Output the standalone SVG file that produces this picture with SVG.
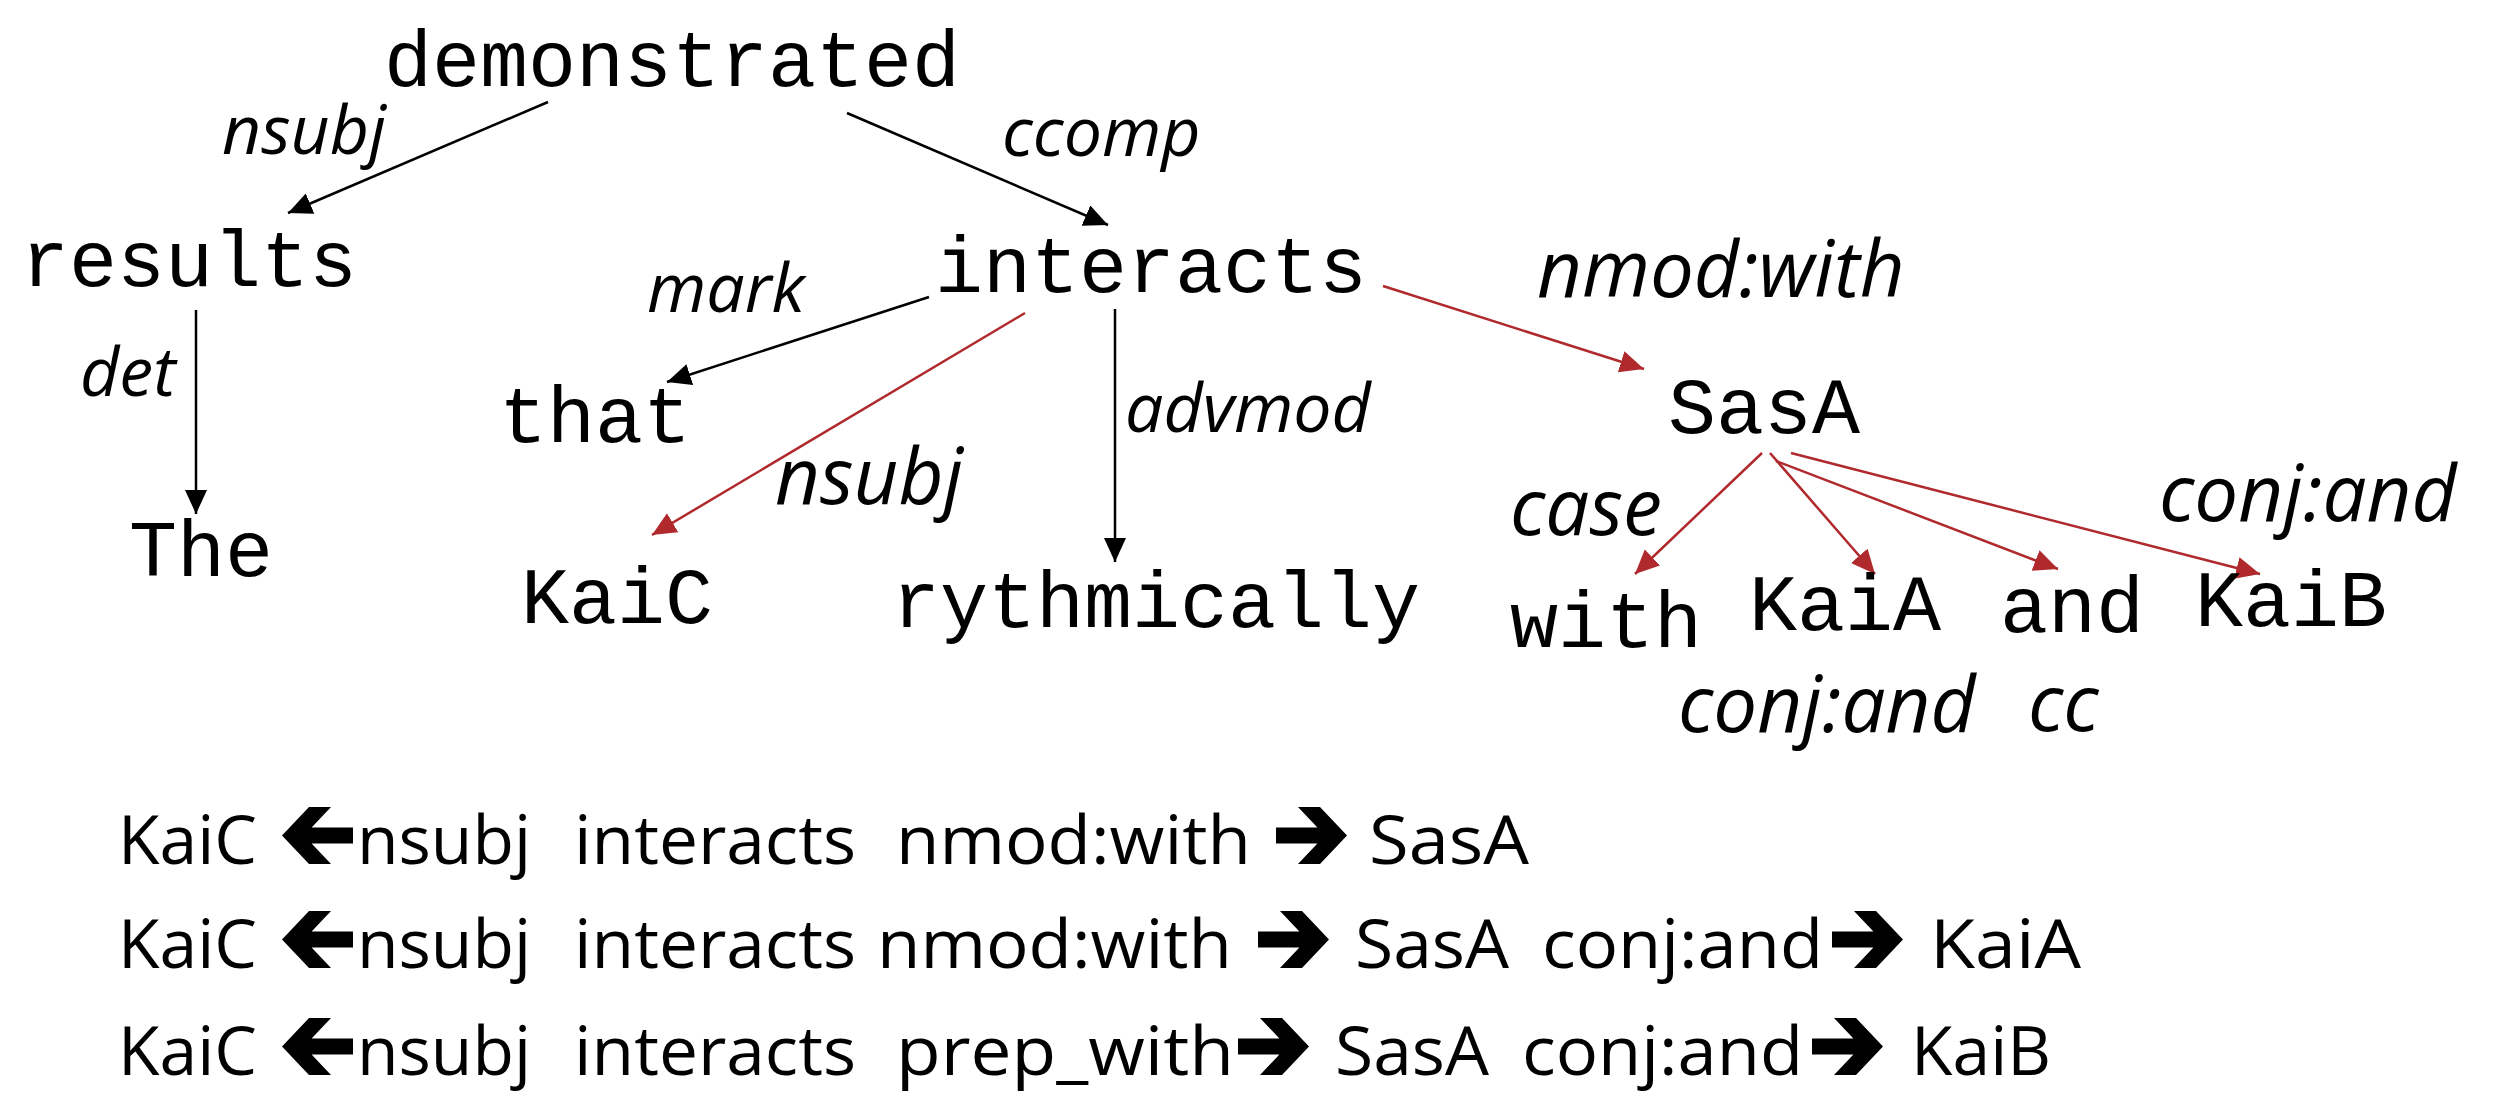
<svg xmlns="http://www.w3.org/2000/svg" width="2499" height="1111" viewBox="0 0 2499 1111">
<style>
.w{font-family:"Liberation Mono","Courier New",monospace;font-size:80px;fill:#000;}
.l{font-family:"Open Sans","DejaVu Sans",sans-serif;font-style:italic;font-size:68px;fill:#000;}
.lb{font-family:"Open Sans","DejaVu Sans",sans-serif;font-style:italic;font-size:78px;fill:#000;}
.b{font-family:"Open Sans","DejaVu Sans",sans-serif;font-size:68px;fill:#000;}
.k{stroke:#000;stroke-width:2.5;fill:none;marker-end:url(#mk);}
.r{stroke:#B0292D;stroke-width:2.5;fill:none;marker-end:url(#mr);}
</style>
<defs>
<marker id="mk" markerUnits="userSpaceOnUse" markerWidth="26" markerHeight="24" refX="24" refY="11" orient="auto">
<path d="M0,0 L24,11 L0,22 z" fill="#000"/>
</marker>
<marker id="mr" markerUnits="userSpaceOnUse" markerWidth="26" markerHeight="24" refX="24" refY="11" orient="auto">
<path d="M0,0 L24,11 L0,22 z" fill="#B0292D"/>
</marker>
<polygon id="ra" points="0,-36.5 41.4,-36.5 22,-57 44,-57 71,-28.5 44,0 22,0 41.4,-20.5 0,-20.5" fill="#000"/>
</defs>
<rect width="2499" height="1111" fill="#fff"/>
<g id="connectors">
<line class="k" x1="548" y1="102" x2="288" y2="213"/>
<line class="k" x1="847" y1="113" x2="1108" y2="225"/>
<line class="k" x1="196" y1="310" x2="196" y2="514"/>
<line class="k" x1="929" y1="297" x2="667" y2="382"/>
<line class="r" x1="1025" y1="313" x2="652" y2="535"/>
<line class="k" x1="1115" y1="309" x2="1115" y2="562"/>
<line class="r" x1="1383" y1="286" x2="1644" y2="369"/>
<line class="r" x1="1762" y1="453" x2="1635" y2="574"/>
<line class="r" x1="1770" y1="453" x2="1875" y2="574"/>
<line class="r" x1="1776" y1="461" x2="2058" y2="569"/>
<line class="r" x1="1791" y1="453" x2="2260" y2="574"/>
<text class="l" x="222" y="154">nsubj</text>
<text class="l" x="1002" y="156">ccomp</text>
<text class="l" x="80" y="396">det</text>
<text class="l" x="647" y="312">mark</text>
<text class="lb" x="775" y="504">nsubj</text>
<text class="l" x="1125" y="432">advmod</text>
<text class="lb" x="1537" y="297">nmod:with</text>
<text class="lb" x="1510" y="535">case</text>
<text class="lb" x="2159" y="521">conj:and</text>
<text class="lb" x="1678" y="732">conj:and</text>
<text class="lb" x="2028" y="731">cc</text>
</g>
<g id="n-demonstrated"><text class="w" x="384" y="86">demonstrated</text></g>
<g id="n-results"><text class="w" x="21" y="286">results</text></g>
<g id="n-interacts"><text class="w" x="935" y="292">interacts</text></g>
<g id="n-that"><text class="w" x="499" y="442">that</text></g>
<g id="n-The"><text class="w" x="129" y="576">The</text></g>
<g id="n-KaiC"><text class="w" x="521" y="623">KaiC</text></g>
<g id="n-rythmically"><text class="w" x="892" y="627">rythmically</text></g>
<g id="n-SasA"><text class="w" x="1668" y="433">SasA</text></g>
<g id="n-with"><text class="w" x="1510" y="647">with</text></g>
<g id="n-KaiA"><text class="w" x="1749" y="630">KaiA</text></g>
<g id="n-and"><text class="w" x="2000" y="632">and</text></g>
<g id="n-KaiB"><text class="w" x="2195" y="626">KaiB</text></g>
<g id="paths">
<g id="p1">
<text class="b" x="118" y="864" textLength="139" lengthAdjust="spacingAndGlyphs">KaiC</text>
<use href="#ra" transform="translate(353,864) scale(-1,1)"/>
<text class="b" x="357" y="864" textLength="174" lengthAdjust="spacingAndGlyphs">nsubj</text>
<text class="b" x="574" y="864" textLength="282" lengthAdjust="spacingAndGlyphs">interacts</text>
<text class="b" x="896" y="864" textLength="355" lengthAdjust="spacingAndGlyphs">nmod:with</text>
<use href="#ra" transform="translate(1276,864)"/>
<text class="b" x="1369" y="864" textLength="160" lengthAdjust="spacingAndGlyphs">SasA</text>
</g>
<g id="p2">
<text class="b" x="118" y="968" textLength="139" lengthAdjust="spacingAndGlyphs">KaiC</text>
<use href="#ra" transform="translate(353,968) scale(-1,1)"/>
<text class="b" x="357" y="968" textLength="174" lengthAdjust="spacingAndGlyphs">nsubj</text>
<text class="b" x="574" y="968" textLength="282" lengthAdjust="spacingAndGlyphs">interacts</text>
<text class="b" x="877" y="968" textLength="355" lengthAdjust="spacingAndGlyphs">nmod:with</text>
<use href="#ra" transform="translate(1258,968)"/>
<text class="b" x="1355" y="968" textLength="154" lengthAdjust="spacingAndGlyphs">SasA</text>
<text class="b" x="1542" y="968" textLength="281" lengthAdjust="spacingAndGlyphs">conj:and</text>
<use href="#ra" transform="translate(1832,968)"/>
<text class="b" x="1930" y="968" textLength="151" lengthAdjust="spacingAndGlyphs">KaiA</text>
</g>
<g id="p3">
<text class="b" x="118" y="1075" textLength="139" lengthAdjust="spacingAndGlyphs">KaiC</text>
<use href="#ra" transform="translate(353,1075) scale(-1,1)"/>
<text class="b" x="357" y="1075" textLength="174" lengthAdjust="spacingAndGlyphs">nsubj</text>
<text class="b" x="574" y="1075" textLength="282" lengthAdjust="spacingAndGlyphs">interacts</text>
<text class="b" x="896" y="1075" textLength="338" lengthAdjust="spacingAndGlyphs">prep_with</text>
<use href="#ra" transform="translate(1238,1075)"/>
<text class="b" x="1335" y="1075" textLength="154" lengthAdjust="spacingAndGlyphs">SasA</text>
<text class="b" x="1522" y="1075" textLength="281" lengthAdjust="spacingAndGlyphs">conj:and</text>
<use href="#ra" transform="translate(1812,1075)"/>
<text class="b" x="1911" y="1075" textLength="140" lengthAdjust="spacingAndGlyphs">KaiB</text>
</g>
</g>
</svg>
